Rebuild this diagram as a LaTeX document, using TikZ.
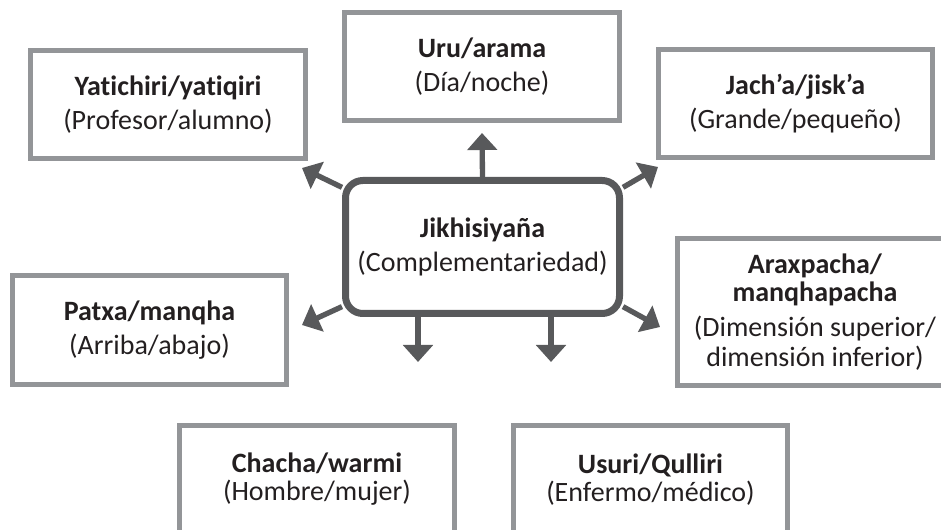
\documentclass[tikz,border=0pt]{standalone}
\usepackage{fontspec}
\setmainfont{Carlito}[Ligatures=NoCommon]
\usetikzlibrary{arrows.meta}
\definecolor{BoxGray}{HTML}{939598}
\definecolor{ArrowGray}{HTML}{58595B}
\definecolor{TextBlack}{HTML}{231F20}

\begin{document}
\begin{tikzpicture}[x=0.75pt,y=-0.75pt]
	\useasboundingbox (0,0) rectangle (941,530);
	\tikzstyle{VertexStyle}=[draw=BoxGray,line width=3.75pt,minimum width=206pt,minimum height=81pt,inner sep=0pt,align=center,text=TextBlack,font=\fontsize{21}{24}\selectfont]
	\tikzstyle{EdgeStyle}=[draw=ArrowGray,line width=4pt,-{Triangle[width=22pt,length=12.75pt]}]
	\node[VertexStyle] (Yatichiri) at (168,104.5) {\textbf{Yatichiri/yatiqiri}\\[1.5pt](Profesor/alumno)};
	\node[VertexStyle] (Uru) at (482,66.5) {\textbf{Uru/arama}\\[1.5pt](Día/noche)};
	\node[VertexStyle] (Jacha) at (795.5,104) {\textbf{Jach’a/jisk’a}\\[1.5pt](Grande/pequeño)};
	\node[VertexStyle] (Patxa) at (149.5,330) {\textbf{Patxa/manqha}\\[1.5pt](Arriba/abajo)};
	\node[VertexStyle,minimum height=110pt] (Araxpacha) at (815,312) {\textbf{Araxpacha/}\\[-3pt]\textbf{manqhapacha}\\[2pt](Dimensión superior/\\[-1.5pt]dimensión inferior)};
	\node[VertexStyle] (Chacha) at (317,479.5) {\textbf{Chacha/warmi}\\[-3pt](Hombre/mujer)};
	\node[VertexStyle] (Usuri) at (650.5,479.5) {\textbf{Usuri/Qulliri}\\[-3pt](Enfermo/médico)};
	\node[VertexStyle,draw=ArrowGray,line width=5.25pt,rounded corners=13pt,minimum width=205.5pt,minimum height=99.75pt] (Jikhisiyana) at (482.5,247) {\textbf{Jikhisiyaña}\\[1.5pt](Complementariedad)};
	\coordinate (U) at (482,133);
	\coordinate (UL) at (302,168);
	\coordinate (UR) at (658,167);
	\coordinate (DL) at (302,325);
	\coordinate (DR) at (660,327);
	\coordinate (D1) at (418,362);
	\coordinate (D2) at (551,362);
	\draw[EdgeStyle] (Jikhisiyana.north) -- (U);
	\draw[EdgeStyle] (Jikhisiyana.157) -- (UL);
	\draw[EdgeStyle] (Jikhisiyana.23) -- (UR);
	\draw[EdgeStyle] (Jikhisiyana.203) -- (DL);
	\draw[EdgeStyle] (Jikhisiyana.-23) -- (DR);
	\draw[EdgeStyle] (D1 |- Jikhisiyana.south) -- (D1);
	\draw[EdgeStyle] (D2 |- Jikhisiyana.south) -- (D2);
\end{tikzpicture}
\end{document}
